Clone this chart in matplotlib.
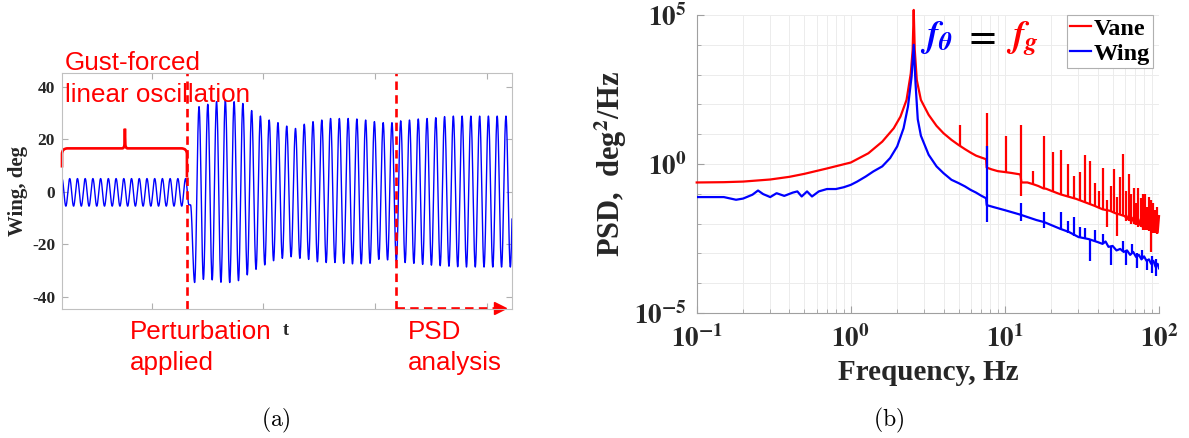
import numpy as np
import matplotlib
matplotlib.use("Agg")
import matplotlib.pyplot as plt
from matplotlib.path import Path
from matplotlib.patches import PathPatch
from matplotlib.ticker import FixedLocator, FixedFormatter, NullFormatter

plt.rcParams['mathtext.fontset'] = 'stix'
SERIF = 'Liberation Serif'
SANS = 'Liberation Sans'
W, H = 1189, 438

# ---------------- (a) wing angle time history ----------------
t_left, t_right = 1.0, 21.1
t_ticks = [5, 10, 15, 20]
y_ticks_a = [-40, -20, 0, 20, 40]
t_perturb = 6.58
t_psd = 15.92

pre_period = 0.345
pre_peak, pre_trough = 5.0, -5.5
n_pre_cycles = 16

transition_t = [6.67, 6.74]
transition_v = [-5.0, -5.0]

post_first_peak_t = 7.12
post_period = 0.3917
post_peaks = [32.4, 33.3, 34.3, 34.9, 34.3, 33.6, 30.9, 28.8, 27.3, 26.3,
              25.0, 24.1, 25.7, 26.7, 27.3, 27.9, 27.9, 27.9, 27.7, 27.3,
              26.7, 26.3, 26.3, 27.0, 27.3, 27.7, 27.9, 28.2, 28.6, 28.8,
              28.8, 28.8, 28.8, 28.8, 28.8, 28.8]
post_troughs = [-34.6, -33.4, -33.6, -34.5, -34.6, -33.9, -31.7, -29.6, -27.9, -26.3,
                -25.4, -24.8, -25.4, -25.8, -26.7, -27.0, -27.0, -27.3, -27.5, -27.5,
                -27.3, -25.8, -26.0, -26.4, -27.0, -27.3, -27.7, -28.0, -28.2, -28.4,
                -28.6, -28.7, -28.7, -28.7, -28.7, -28.7, -28.7]

# brace over the gust-forced part: end heights, bar height, tip height
brace_left_v, brace_bar_v, brace_tip_v, brace_right_v = 9.2, 16.5, 24.0, 5.5
brace_tip_t = 3.81

# ---------------- (b) power spectral density ----------------
vane_freq = [0.10, 0.15, 0.20, 0.30, 0.40, 0.50, 0.70, 1.00, 1.30, 1.60, 1.90, 2.10,
             2.30, 2.45, 2.52, 2.56, 2.60, 2.68, 2.85, 3.20, 3.60, 4.00, 4.50, 5.00,
             5.50, 6.00, 6.50, 7.00, 7.55, 7.62, 8.20, 9.00, 10.0, 11.0, 12.6, 12.8,
             14.0, 15.3, 16.5, 17.8, 18.5, 20.0, 23.0, 26.0, 29.0, 33.0, 38.0, 43.0,
             48.0, 52.0, 56.0, 60.0, 62.0, 64.0, 66.0, 68.0, 70.0, 72.0, 74.0, 76.0,
             78.0, 80.0, 82.0, 84.0, 86.0, 88.0, 90.0, 92.0, 94.0, 96.0, 98.0, 100.0]
vane_log_psd = [-0.62, -0.61, -0.59, -0.52, -0.43, -0.33, -0.15, 0.05, 0.36, 0.75, 1.20, 1.59,
                2.15, 3.04, 3.83, 5.17, 3.83, 2.82, 2.15, 1.65, 1.28, 1.03, 0.81, 0.64,
                0.50, 0.38, 0.28, 0.22, 0.16, -0.12, -0.18, -0.24, -0.27, -0.30, -0.35, -0.62,
                -0.62, -0.68, -0.74, -0.82, -0.83, -0.90, -1.02, -1.10, -1.17, -1.28, -1.40, -1.52,
                -1.57, -1.65, -1.70, -1.75, -1.85, -1.70, -1.95, -1.80, -2.00, -1.75, -2.05, -1.85,
                -2.10, -1.90, -2.15, -1.85, -2.05, -1.80, -2.20, -1.90, -2.25, -1.80, -2.30, -1.75]
vane_spike_freq = [5.1, 7.6, 10.2, 12.7, 15.3, 17.9, 20.4, 23.0, 25.5, 28.1, 30.6, 33.2,
                   35.7, 38.3, 40.8, 43.4, 45.9, 48.5, 50.9, 53.6, 56.1, 58.0, 61.2, 63.8,
                   66.3, 68.9, 71.4, 73.5, 76.5, 79.1, 81.6, 84.2, 86.7, 89.3, 91.8, 94.4, 97.0]
vane_spike_lo = [0.62, -0.12, -0.27, -1.06, -0.68, -0.85, -0.92, -1.02, -1.08, -1.15, -1.20, -1.28,
                 -1.35, -1.42, -1.47, -1.52, -2.10, -1.58, -1.62, -2.40, -1.70, -1.75, -1.90, -1.90,
                 -2.00, -2.00, -2.05, -2.10, -2.10, -2.20, -2.20, -2.20, -2.25, -2.95, -2.30, -2.30, -2.35]
vane_spike_hi = [1.30, 1.70, 0.95, 1.30, -0.22, 0.94, 0.40, 0.47, 0.00, -0.39, -0.28, 0.30,
                 0.11, -0.63, -0.90, -0.14, -1.20, -0.75, -0.18, -1.10, -0.45, 0.35, -0.90, -0.35,
                 -1.00, -0.80, -1.30, -0.80, -1.15, -1.00, -1.00, -1.45, -1.10, -1.20, -1.30, -1.55, -1.45]

wing_freq = [0.10, 0.15, 0.18, 0.20, 0.23, 0.25, 0.27, 0.30, 0.33, 0.37, 0.42, 0.45,
             0.48, 0.52, 0.56, 0.62, 0.70, 0.80, 0.90, 1.00, 1.10, 1.25, 1.40, 1.60,
             1.80, 2.00, 2.20, 2.35, 2.48, 2.56, 2.63, 2.72, 2.85, 3.20, 3.60, 4.00,
             4.50, 5.00, 5.50, 6.00, 6.50, 7.00, 7.55, 7.62, 8.50, 10.0, 12.6, 14.0,
             16.0, 18.0, 20.0, 23.0, 26.0, 30.0, 35.0, 40.0, 43.0, 45.0, 47.0, 50.0,
             53.0, 56.0, 59.0, 62.0, 65.0, 68.0, 71.0, 74.0, 77.0, 80.0, 83.0, 86.0,
             89.0, 92.0, 95.0, 98.0, 100.0]
wing_log_psd = [-1.11, -1.11, -1.20, -1.16, -1.03, -0.89, -1.01, -1.11, -0.98, -1.07, -0.96, -0.92,
                -1.09, -0.92, -1.09, -0.92, -0.84, -0.84, -0.78, -0.70, -0.59, -0.42, -0.25, -0.08,
                0.20, 0.59, 1.20, 1.93, 2.93, 4.00, 2.71, 1.50, 0.95, 0.31, -0.08, -0.31,
                -0.53, -0.64, -0.75, -0.87, -0.96, -1.06, -1.15, -1.38, -1.45, -1.55, -1.70, -1.78,
                -1.88, -1.95, -2.05, -2.18, -2.28, -2.45, -2.52, -2.62, -2.68, -2.60, -2.78, -2.75,
                -2.90, -2.85, -2.95, -2.90, -3.05, -2.95, -3.12, -3.05, -3.20, -3.10, -3.25, -3.20,
                -3.35, -3.25, -3.45, -3.35, -3.50]
wing_spike_freq = [7.6, 12.7, 17.9, 23.0, 25.6, 28.2, 30.7, 33.3, 35.8, 38.3, 43.4, 49.0,
                   58.5, 61.3, 66.5, 72.0, 77.0, 84.0, 90.0, 96.0]
wing_spike_lo = [-1.93, -1.90, -2.15, -2.20, -2.30, -2.40, -2.45, -2.50, -3.24, -2.60, -2.70, -3.40,
                 -2.95, -3.40, -3.00, -3.50, -3.20, -3.55, -3.65, -3.75]
wing_spike_hi = [0.59, -1.30, -1.60, -1.62, -1.90, -1.78, -2.10, -2.15, -2.50, -2.20, -2.35, -2.75,
                 -2.60, -2.90, -2.70, -3.00, -2.90, -3.20, -3.10, -3.20]

RED = '#ff0000'
BLUE = '#0000ff'


def px(x):
    return x / W


def py(y):
    return 1 - y / H


def sinusoid_through(times, values, t):
    """Half-cosine segments joining successive extrema."""
    times = np.asarray(times)
    values = np.asarray(values)
    i = np.clip(np.searchsorted(times, t, side='right') - 1, 0, len(times) - 2)
    t0, t1 = times[i], times[i + 1]
    v0, v1 = values[i], values[i + 1]
    frac = np.clip((t - t0) / (t1 - t0), 0, 1)
    return 0.5 * (v0 + v1) + 0.5 * (v0 - v1) * np.cos(np.pi * frac)


fig = plt.figure(figsize=(W / 100, H / 100), dpi=100)

# ---------------- panel (a) ----------------
ax = fig.add_axes([px(62), py(309.3), px(450), (309.3 - 73.3) / H])

ext_t, ext_v = [], []
for k in range(2 * n_pre_cycles + 1):
    ext_t.append(t_left + k * pre_period / 2)
    ext_v.append(pre_peak if k % 2 == 0 else pre_trough)
ext_t += transition_t
ext_v += transition_v
for i, pk in enumerate(post_peaks):
    ext_t.append(post_first_peak_t + i * post_period - post_period / 2)
    ext_v.append(post_troughs[i])
    ext_t.append(post_first_peak_t + i * post_period)
    ext_v.append(pk)
ext_t.append(post_first_peak_t + len(post_peaks) * post_period - post_period / 2)
ext_v.append(post_troughs[-1])
ext_t.append(post_first_peak_t + len(post_peaks) * post_period)
ext_v.append(post_peaks[-1])

t = np.linspace(t_left, t_right, 6000)
ax.plot(t, sinusoid_through(ext_t, ext_v, t), color=BLUE, lw=1.0)

ax.set_xlim(t_left, t_right)
ax.set_ylim(-44.8, 45.1)
ax.set_xticks(t_ticks)
ax.set_xticklabels([])
ax.set_yticks(y_ticks_a)
ax.set_yticklabels([str(v) for v in y_ticks_a], fontfamily=SERIF, fontweight='bold',
                   fontsize=12.5, color='#262626')
ax.tick_params(direction='in', length=4, color='#b0b0b0', top=True, right=True, pad=5)
for s in ax.spines.values():
    s.set_color('#c0c0c0')
    s.set_linewidth(0.8)

# perturbation marker and PSD window
for tv in (t_perturb, t_psd):
    ln = ax.axvline(tv, color=RED, lw=1.9, clip_on=False)
    ln.set_dashes([3.2, 2.0])
arrow_v = -44.3
ln, = ax.plot([t_psd, 20.5], [arrow_v, arrow_v], color=RED, lw=1.9, clip_on=False)
ln.set_dashes([3.2, 2.0])
ax.plot([20.55], [arrow_v], marker='>', color=RED, ms=8, clip_on=False)

# brace
r_t, r_v = 0.25, 2.2
bx0, bx1 = t_left, t_perturb
verts = [(bx0, brace_left_v), (bx0, brace_bar_v - r_v), (bx0, brace_bar_v), (bx0 + r_t, brace_bar_v),
         (brace_tip_t - 0.12, brace_bar_v), (brace_tip_t - 0.03, brace_bar_v), (brace_tip_t - 0.02, brace_bar_v + 1.5),
         (brace_tip_t, brace_tip_v),
         (brace_tip_t + 0.02, brace_bar_v + 1.5), (brace_tip_t + 0.03, brace_bar_v), (brace_tip_t + 0.12, brace_bar_v),
         (bx1 - r_t, brace_bar_v), (bx1, brace_bar_v), (bx1, brace_bar_v - r_v), (bx1, brace_right_v)]
codes = [Path.MOVETO, Path.LINETO, Path.CURVE3, Path.CURVE3,
         Path.LINETO, Path.CURVE3, Path.CURVE3,
         Path.LINETO,
         Path.LINETO, Path.CURVE3, Path.CURVE3,
         Path.LINETO, Path.CURVE3, Path.CURVE3, Path.LINETO]
ax.add_patch(PathPatch(Path(verts, codes), fill=False, edgecolor=RED, lw=1.9, clip_on=False))

ax.set_ylabel('Wing, deg', fontfamily=SERIF, fontweight='bold', fontsize=15, color='#262626')
ax.yaxis.set_label_coords((28 - 62) / 450, 0.5)

red_sans = dict(color=RED, fontfamily=SANS, fontsize=18.7, va='baseline', ha='left')
fig.text(px(65), py(70), 'Gust-forced', **red_sans)
fig.text(px(65), py(101.7), 'linear oscillation', **red_sans)
fig.text(px(130), py(339), 'Perturbation', **red_sans)
fig.text(px(130), py(370), 'applied', **red_sans)
fig.text(px(408), py(339), 'PSD', **red_sans)
fig.text(px(408), py(370), 'analysis', **red_sans)
fig.text(px(286), py(335), 't', fontfamily=SERIF, fontweight='bold', fontsize=13,
         color='#262626', ha='center', va='baseline')
fig.text(px(276), py(420), r'$\mathrm{(a)}$', math_fontfamily='cm', fontsize=17,
         ha='center', va='center')

# ---------------- panel (b) ----------------
bx = fig.add_axes([px(696.7), py(313), px(462.3), 298 / H])
bx.set_xscale('log')
bx.set_yscale('log')
bx.set_xlim(0.1, 100)
bx.set_ylim(1e-5, 1e5)
bx.grid(True, which='both', color='#ececec', lw=0.7)
bx.set_axisbelow(True)

vane_psd = 10.0 ** np.array(vane_log_psd)
wing_psd = 10.0 ** np.array(wing_log_psd)
bx.plot(vane_freq, vane_psd, color=RED, lw=1.6, label='Vane', clip_on=False, zorder=3)
bx.vlines(vane_spike_freq, 10.0 ** np.array(vane_spike_lo), 10.0 ** np.array(vane_spike_hi),
          color=RED, lw=1.6, zorder=3)
bx.plot(wing_freq, wing_psd, color=BLUE, lw=1.6, label='Wing', zorder=4)
bx.vlines(wing_spike_freq, 10.0 ** np.array(wing_spike_lo), 10.0 ** np.array(wing_spike_hi),
          color=BLUE, lw=1.6, zorder=4)

x_major = [0.1, 1, 10, 100]
x_labels = [r'$\mathbf{10^{-1}}$', r'$\mathbf{10^{0}}$', r'$\mathbf{10^{1}}$', r'$\mathbf{10^{2}}$']
y_major = [1e-5, 1e0, 1e5]
y_labels = [r'$\mathbf{10^{-5}}$', r'$\mathbf{10^{0}}$', r'$\mathbf{10^{5}}$']
bx.xaxis.set_major_locator(FixedLocator(x_major))
bx.xaxis.set_major_formatter(FixedFormatter(x_labels))
bx.xaxis.set_minor_locator(FixedLocator([m * d for d in (0.1, 1, 10) for m in range(2, 10)]))
bx.xaxis.set_minor_formatter(NullFormatter())
bx.yaxis.set_major_locator(FixedLocator(y_major))
bx.yaxis.set_major_formatter(FixedFormatter(y_labels))
bx.yaxis.set_minor_locator(FixedLocator([10.0 ** e for e in range(-4, 5) if e != 0]))
bx.yaxis.set_minor_formatter(NullFormatter())
bx.tick_params(which='both', direction='in', color='#a0a0a0', labelcolor='#262626')
bx.tick_params(which='major', length=5, labelsize=19.5)
bx.tick_params(which='minor', length=3)
bx.tick_params(axis='x', which='major', pad=9)
bx.tick_params(axis='y', which='major', pad=7)
for side in ('top', 'right'):
    bx.spines[side].set_visible(False)
for side in ('left', 'bottom'):
    bx.spines[side].set_color('#a0a0a0')
    bx.spines[side].set_linewidth(0.8)

bx.set_xlabel('Frequency, Hz', fontfamily=SERIF, fontweight='bold', fontsize=21, color='#262626')
bx.set_ylabel(r'PSD,  deg$^\mathbf{2}$/Hz', fontfamily=SERIF, fontweight='bold', fontsize=22,
              color='#262626')

leg = bx.legend(loc='upper right', bbox_to_anchor=(1 - 6 / 462.3, 1.0),
                prop=dict(family=SERIF, weight='bold', size=17.5), frameon=True, fancybox=False,
                edgecolor='#b0b0b0', framealpha=1, borderpad=0.12, handlelength=0.85,
                handletextpad=0.12, labelspacing=0.12, borderaxespad=0.0)
leg.get_frame().set_linewidth(0.8)

fig.text(px(920), py(46), r'$\mathbfit{f}_{\mathbfit{\theta}}$', color=BLUE, fontsize=26,
         ha='left', va='baseline')
fig.text(px(979), py(46), r'$\mathbf{=}$', color='black', fontsize=27, ha='center', va='baseline')
fig.text(px(1006), py(46), r'$\mathbfit{f}_{\mathbfit{g}}$', color=RED, fontsize=26,
         ha='left', va='baseline')
fig.text(px(889), py(420), r'$\mathrm{(b)}$', math_fontfamily='cm', fontsize=17,
         ha='center', va='center')

fig.savefig('out.png', dpi=100)
